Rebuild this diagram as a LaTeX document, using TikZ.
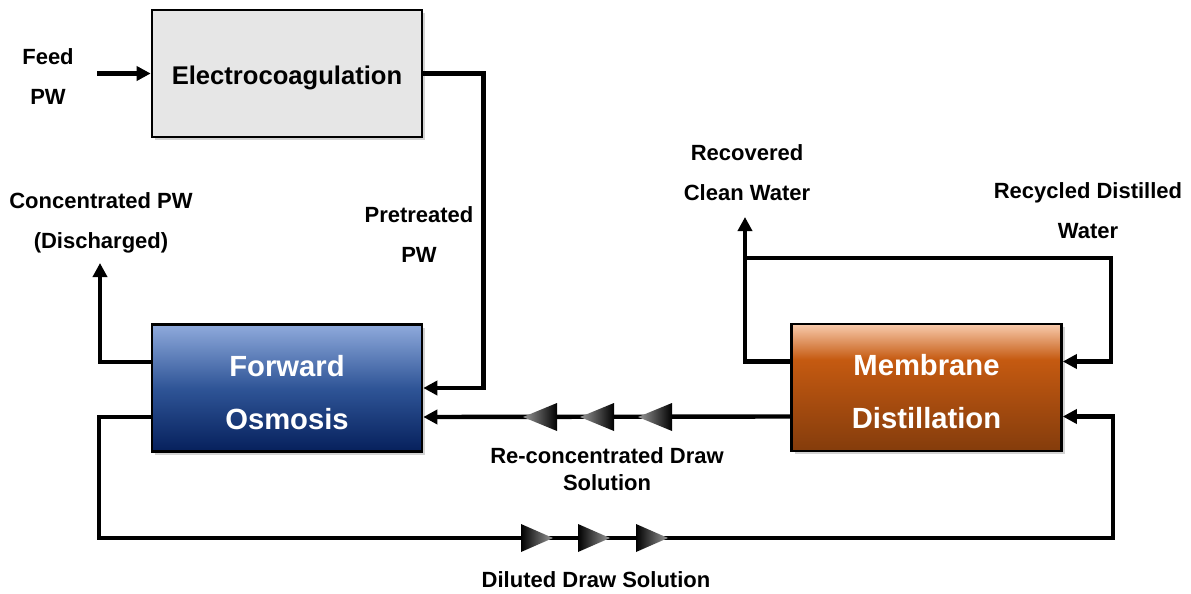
\documentclass[tikz,border=0pt]{standalone}
\usepackage{fontspec}
\setmainfont{Liberation Sans}
\usetikzlibrary{arrows.meta,shadows}
\definecolor{ecgray}{HTML}{E6E6E6}
\definecolor{fotop}{HTML}{8FAADC}
\definecolor{fomid}{HTML}{2F5597}
\definecolor{fobot}{HTML}{06205C}
\definecolor{mdtop}{HTML}{F8CBAD}
\definecolor{mdmid}{HTML}{C55A11}
\definecolor{mdbot}{HTML}{843C0C}
\pgfdeclareverticalshading{foshade}{100bp}{color(0bp)=(fobot); color(25bp)=(fobot); color(50bp)=(fomid); color(75bp)=(fotop); color(100bp)=(fotop)}
\pgfdeclareverticalshading{mdshade}{100bp}{color(0bp)=(mdbot); color(25bp)=(mdbot); color(61bp)=(mdmid); color(75bp)=(mdtop); color(100bp)=(mdtop)}

\begin{document}
\begin{tikzpicture}[x=0.5pt,y=-0.5pt,font=\bfseries,
  unit/.style={draw=black,line width=1.3pt,minimum width=135pt,minimum height=63.5pt,
    inner sep=0pt,align=center,
    drop shadow={shadow xshift=1.5pt,shadow yshift=-1.5pt,opacity=.35}},
  bigtext/.style={text=white,text height=41.5pt,font=\fontsize{14.6}{26.5}\selectfont\bfseries},
  flow/.style={line width=2.2pt,-{Triangle[length=7pt,width=7pt]}},
  lbl/.style={align=center,font=\fontsize{11}{20}\selectfont\bfseries}]
  \useasboundingbox (0,0) rectangle (1191,594);

  % process units
  \node[unit,fill=ecgray,text height=13.3pt,font=\fontsize{12.8}{15}\selectfont\bfseries] (ec) at (287,73.5) {Electrocoagulation};
  \node[unit,shading=foshade,bigtext] (fo) at (287,388) {Forward\\Osmosis};
  \node[unit,shading=mdshade,bigtext] (md) at (926.5,387.5) {Membrane\\Distillation};

  % stream labels
  \node[lbl] (feed) at (48,77) {Feed\\PW};
  \node[lbl] (pretreated) at (419,235) {Pretreated\\PW};
  \node[lbl] (conc) at (101,223) {Concentrated PW\\(Discharged)};
  \node[lbl] (recovered) at (747,173) {Recovered\\Clean Water};
  \node[lbl] (recycled) at (1088,211) {Recycled Distilled\\Water};
  \node[lbl,font=\fontsize{11}{13.5}\selectfont\bfseries] (reconc) at (607,469) {Re-concentrated Draw\\Solution};
  \node[lbl] (diluted) at (596,580) {Diluted Draw Solution};

  \coordinate (feedin) at (97,73.5);
  \coordinate (concend) at (100,263);
  \coordinate (loopcorner) at (1113,538);
  \coordinate (recend) at (745,217);
  \coordinate (recsplit) at (745,258);

  % streams
  \draw[flow] (feedin) -- (ec.west);
  \draw[flow] (ec.east) -- ++(60,0) |- (fo.east);
  \draw[flow] ([yshift=13pt]fo.west) -| (concend);
  \draw[flow] ([yshift=-14.5pt]fo.west) -- ++(-52,0) |- (loopcorner) |- ([yshift=-14.5pt]md.east);
  \draw[flow] ([yshift=-14.5pt]md.west) -- ([yshift=-14.5pt]fo.east);
  \draw[flow] ([yshift=13pt]md.west) -| (recend);
  \draw[flow] (recsplit) -- ++(366,0) |- ([yshift=13pt]md.east);

  % direction markers on the draw loop
  \foreach \x in {540,597,655}
    {\shade[left color=black!40,right color=black] (\x-17,417) -- (\x+17,403) -- (\x+17,431) -- cycle;}
  \foreach \x in {537,594,652}
    {\shade[left color=black,right color=black!40] (\x-16,524) -- (\x-16,552) -- (\x+16,538) -- cycle;}
\end{tikzpicture}
\end{document}
